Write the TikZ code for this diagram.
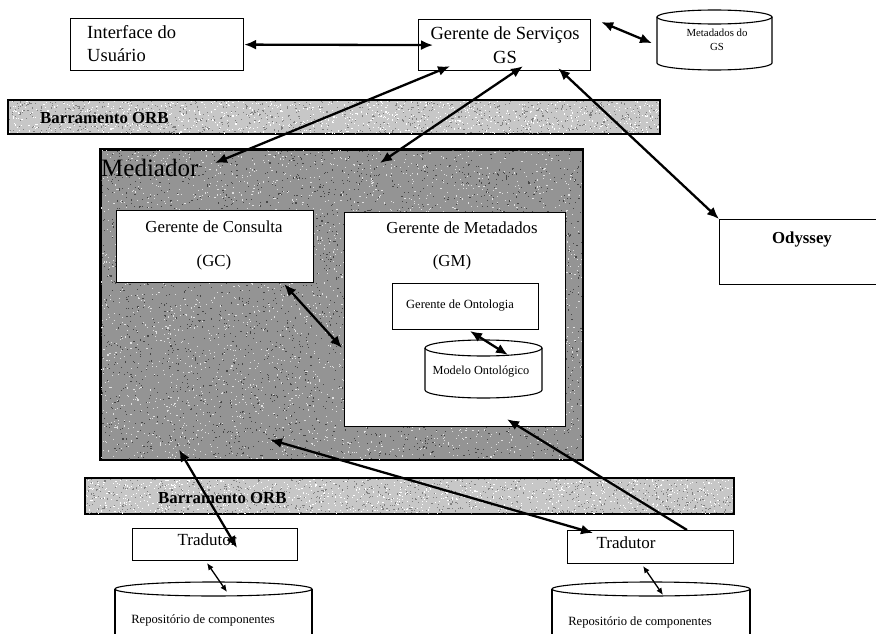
\documentclass[tikz,border=0pt]{standalone}
\usepackage{fontspec}
\setmainfont{Liberation Serif}
\usetikzlibrary{arrows.meta,calc}

% font size helper: size and baseline skip in pt
\newcommand\txtsz[2]{\fontsize{#1}{#2}\selectfont}

\begin{document}
\begin{tikzpicture}[x=1pt,y=-1pt,
  box/.style={draw=black,line width=1.2pt,fill=white,inner sep=0pt,anchor=north west},
  frame/.style={draw=none,inner sep=0pt,anchor=north west},
  busbar/.style={draw=black,line width=1.1pt,fill=black!22,inner sep=0pt,anchor=north west},
  medbox/.style={draw=black,line width=1.6pt,fill=black!42,inner sep=0pt,anchor=north west},
  drum/.style={draw=black,line width=1.1pt,fill=white},
  link/.style={line width=2.3pt,{Latex[length=12pt,width=10pt]}-{Latex[length=12pt,width=10pt]}},
  onelink/.style={line width=2.3pt,-{Latex[length=12pt,width=10pt]}},
  thinlink/.style={line width=1.3pt,{Latex[length=7pt,width=6pt]}-{Latex[length=7pt,width=6pt]}},
  lbl/.style={inner sep=0pt,text=black},
]
\useasboundingbox (0,0) rectangle (876,634);
\clip (0,0) rectangle (876,634);
\pgfmathsetseed{4711}

% grainy halftone texture inside a rectangle:
% #1 = x, #2 = y, #3 = width, #4 = height, #5 = dark dots, #6 = light dots, #7 = dark shade, #8 = light shade
\newcommand\grain[8]{%
  \begin{scope}
    \clip (#1,#2) rectangle ++(#3,#4);
    \foreach \k in {1,...,#5} {\fill[#7] (#1+#3*rnd,#2+#4*rnd) rectangle ++(1.1,1.1);}
    \foreach \k in {1,...,#6} {\fill[#8] (#1+#3*rnd,#2+#4*rnd) rectangle ++(1.1,1.1);}
  \end{scope}}

% --- top row -------------------------------------------------------------
\node[box,minimum width=173,minimum height=52] (iface) at (70,18) {};
\node[lbl,anchor=west,align=left,font=\txtsz{18.5}{23}] (ifacetxt) at (87,44)
  {Interface do\\Usuário};

\node[box,minimum width=172,minimum height=51] (gs) at (418,19) {};
\node[lbl,align=center,font=\txtsz{18.5}{24}] (gstxt) at (505,45)
  {Gerente de Serviços\\GS};

% metadata store of the service manager
\node[frame,minimum width=115,minimum height=60] (meta) at (657,10) {};
\path[drum] (657,17) -- (657,63) arc[start angle=180,end angle=0,x radius=57.5,y radius=7] -- (772,17);
\path[drum] (714.5,17) ellipse[x radius=57.5,y radius=7];
\node[lbl,align=center,font=\txtsz{10.8}{14}] (metatxt) at (717,40) {Metadados do\\GS};

% --- upper bus --------------------------------------------------------------
\node[busbar,minimum width=651,minimum height=33] (orbtop) at (8,100) {};
\grain{8}{100}{651}{33}{900}{900}{black!50}{white}
\draw[black,line width=1.1pt] (orbtop.north west) rectangle (orbtop.south east);
\node[lbl,anchor=west,font=\bfseries\txtsz{16.8}{20}] (orbtoptxt) at (40,118) {Barramento ORB};

% --- Odyssey ----------------------------------------------------------------
\node[box,minimum width=170,minimum height=65] (odyssey) at (719,219) {};
\node[lbl,font=\bfseries\txtsz{16.8}{20}] (odysseytxt) at (802,239) {Odyssey};

% --- mediator ---------------------------------------------------------------
\node[medbox,minimum width=482,minimum height=310] (med) at (100,149) {};
\grain{100}{149}{482}{310}{3000}{3000}{black!72}{black!12}
\draw[black,line width=1.6pt] (med.north west) rectangle (med.south east);
\node[lbl,anchor=west,font=\txtsz{25}{28}] (medtxt) at (101,168) {Mediador};

\node[box,minimum width=197,minimum height=72] (gc) at (116,210) {};
\node[lbl,align=center,font=\txtsz{16.8}{34}] (gctxt) at (214,245)
  {Gerente de Consulta\\(GC)};

\node[box,minimum width=221,minimum height=214] (gm) at (344,212) {};
\node[lbl,font=\txtsz{16.8}{20}] (gmtxt) at (462,228) {Gerente de Metadados};
\node[lbl,font=\txtsz{16.8}{20}] (gmabbr) at (452,262) {(GM)};

\node[box,line width=1pt,minimum width=146,minimum height=46] (onto) at (392,283) {};
\node[lbl,font=\txtsz{12.5}{15}] (ontotxt) at (460,306) {Gerente de Ontologia};

% ontology model store
\node[frame,minimum width=117,minimum height=58] (modelo) at (425,340) {};
\path[drum] (425,348) -- (425,390) arc[start angle=180,end angle=0,x radius=58.5,y radius=8] -- (542,348);
\path[drum] (483.5,348) ellipse[x radius=58.5,y radius=8];
\node[lbl,font=\txtsz{12.3}{15}] (modelotxt) at (481,372) {Modelo Ontológico};

% --- lower bus --------------------------------------------------------------
\node[busbar,minimum width=648,minimum height=35] (orbbot) at (85,478) {};
\grain{85}{478}{648}{35}{900}{900}{black!50}{white}
\draw[black,line width=1.1pt] (orbbot.north west) rectangle (orbbot.south east);
\node[lbl,anchor=west,font=\bfseries\txtsz{16.8}{20}] (orbbottxt) at (158,498) {Barramento ORB};

% --- translators and repositories -------------------------------------------
\node[box,line width=1pt,minimum width=165,minimum height=32] (trl) at (132,528) {};
\node[lbl,font=\txtsz{17}{20}] (trltxt) at (207,540) {Tradutor};
\node[box,line width=1pt,minimum width=166,minimum height=33] (trr) at (567,530) {};
\node[lbl,font=\txtsz{17}{20}] (trrtxt) at (626,543) {Tradutor};

\node[frame,minimum width=197,minimum height=60] (repol) at (115,582) {};
\path[drum] (115,589) -- (115,640) -- (312,640) -- (312,589);
\path[drum] (213.5,589) ellipse[x radius=98.5,y radius=7];
\node[lbl,font=\txtsz{12.6}{15}] (repoltxt) at (203,620) {Repositório de componentes};

\node[frame,minimum width=198,minimum height=60] (repor) at (552,582) {};
\path[drum] (552,589) -- (552,640) -- (750,640) -- (750,589);
\path[drum] (651,589) ellipse[x radius=99,y radius=7];
\node[lbl,font=\txtsz{12.6}{15}] (reportxt) at (640,622) {Repositório de componentes};

% --- connectors -------------------------------------------------------------
\draw[link] (iface.east) -- ($(gs.west)+(15,0)$);
\draw[link] ($(gs.north east)+(10,3)$) -- ($(meta.west)+(-5,3)$);
\draw[link] ($(gs.south west)+(32,-5)$) -- ($(med.north west)+(115,14)$);
\draw[link] ($(gs.south west)+(105,-5)$) -- ($(med.north west)+(280,14)$);
\draw[link] ($(gs.south east)+(-33,-3)$) -- (odyssey.north west);
\draw[link] ($(gc.south east)+(-30,1)$) -- ($(gm.north west)+(-2,136)$);
\draw[link] ($(onto.south west)+(78,1)$) -- ($(modelo.north west)+(83,15)$);
\draw[link] ($(trl.north west)+(105,20)$) -- ($(med.south west)+(79,-11)$);
\draw[link] ($(med.south west)+(170,-21)$) -- ($(trr.north west)+(26,3)$);
\draw[onelink] ($(trr.north west)+(120,0)$) -- ($(gm.south west)+(163,-8)$);
\draw[thinlink] ($(trl.south west)+(75,2)$) -- ($(repol.north west)+(112,10)$);
\draw[thinlink] ($(trr.south west)+(76,2)$) -- ($(repor.north west)+(111,13)$);
\end{tikzpicture}
\end{document}
